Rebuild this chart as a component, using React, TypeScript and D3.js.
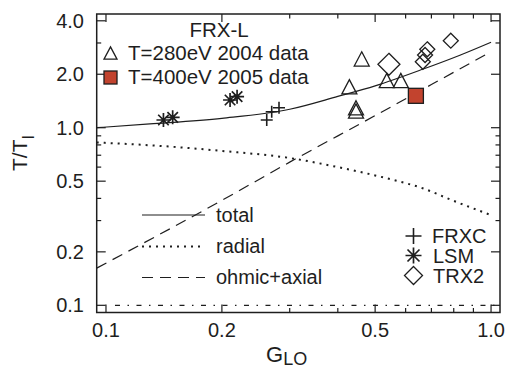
import React from "react";
import * as d3 from "d3";

// Axis ticks
const xMajorTicks = [0.1, 0.2, 0.5, 1.0];
const xMajorLabels = ["0.1", "0.2", "0.5", "1.0"];
const xMinorTicks = [0.3, 0.4, 0.6, 0.7, 0.8, 0.9];
const yMajorTicks = [0.1, 0.2, 0.5, 1.0, 2.0, 4.0];
const yMajorLabels = ["0.1", "0.2", "0.5", "1.0", "2.0", "4.0"];
const yMinorTicks = [0.3, 0.4, 0.6, 0.7, 0.8, 0.9, 3.0];

// Model curves (G_LO, T/T_I)
const totalG = [0.0946, 0.13, 0.2, 0.3, 0.4, 0.5, 0.667, 0.83, 1.0];
const totalT = [1.0, 1.05, 1.13, 1.27, 1.5, 1.72, 2.14, 2.56, 3.03];
const radialG = [0.0946, 0.15, 0.2, 0.3, 0.4, 0.557, 0.667, 0.782, 1.0];
const radialT = [0.826, 0.78, 0.74, 0.675, 0.6, 0.508, 0.455, 0.395, 0.322];
const ohmicG = [0.0946, 0.2, 0.3, 0.5, 0.7, 1.0];
const ohmicT = [0.162, 0.39, 0.64, 1.17, 1.75, 2.68];
const floorT = 0.1;

// FRX-L measurements
const frxl2004G = [0.4615, 0.4286, 0.446, 0.446, 0.536, 0.583];
const frxl2004T = [2.44, 1.7, 1.294, 1.242, 1.844, 1.844];
const frxl2005G = [0.638];
const frxl2005T = [1.512];

// Other devices
const frxcG = [0.2615, 0.2694, 0.2814];
const frxcT = [1.105, 1.23, 1.296];
const lsmG = [0.141, 0.149, 0.21, 0.219];
const lsmT = [1.105, 1.144, 1.432, 1.495];
const trx2G = [0.683, 0.674, 0.665, 0.786];
const trx2T = [2.764, 2.567, 2.353, 3.09];
const trx2LargeG = [0.543];
const trx2LargeT = [2.275];

const W = 505;
const H = 371;
const left = 96.7;
const right = 500;
const top = 14;
const bottom = 312.5;

const ink = "#1e1e1e";
const font = "'Liberation Sans', Arial, Helvetica, sans-serif";

const x = d3.scaleLog().domain([0.0946, 1.055]).range([left, right]);
const y = d3.scaleLog().domain([0.0911, 4.368]).range([bottom, top]);

const zip = (a: number[], b: number[]) => a.map((v, i) => [v, b[i]] as [number, number]);

const line = d3
  .line<[number, number]>()
  .x((d) => x(d[0]))
  .y((d) => y(d[1]))
  .curve(d3.curveMonotoneX);

function Triangle({ cx, cy, s }: { cx: number; cy: number; s: number }) {
  const h = s * 0.95;
  const p = `M${cx},${cy - h / 2}L${cx + s / 2},${cy + h / 2}L${cx - s / 2},${cy + h / 2}Z`;
  return <path d={p} fill="none" stroke={ink} strokeWidth={1.3} strokeLinejoin="miter" />;
}

function Diamond({ cx, cy, r }: { cx: number; cy: number; r: number }) {
  const p = `M${cx},${cy - r}L${cx + r},${cy}L${cx},${cy + r}L${cx - r},${cy}Z`;
  return <path d={p} fill="none" stroke={ink} strokeWidth={1.3} />;
}

function Plus({ cx, cy, r }: { cx: number; cy: number; r: number }) {
  return (
    <path
      d={`M${cx - r},${cy}H${cx + r}M${cx},${cy - r}V${cy + r}`}
      stroke={ink}
      strokeWidth={1.6}
      fill="none"
    />
  );
}

function Star({ cx, cy, r }: { cx: number; cy: number; r: number }) {
  const d = r * 0.75;
  return (
    <path
      d={`M${cx - r},${cy}H${cx + r}M${cx},${cy - r}V${cy + r}M${cx - d},${cy - d}L${cx + d},${cy + d}M${cx - d},${cy + d}L${cx + d},${cy - d}`}
      stroke={ink}
      strokeWidth={1.7}
      fill="none"
    />
  );
}

function Square({ cx, cy, s }: { cx: number; cy: number; s: number }) {
  return (
    <rect x={cx - s / 2} y={cy - s / 2} width={s} height={s} fill="#c2432e" stroke={ink} strokeWidth={1.3} />
  );
}

export default function App() {
  const majorLen = 8;
  const minorLen = 4.5;
  return (
    <div style={{ position: "absolute", left: 0, top: 0 }}>
      <svg width={W} height={H} style={{ display: "block", background: "#fff" }} fontFamily={font}>
        <rect width={W} height={H} fill="#fff" />

        {/* ticks on all four sides */}
        <g stroke={ink} strokeWidth={1.2}>
          {xMajorTicks.map((t) => (
            <g key={"xM" + t}>
              <line x1={x(t)} x2={x(t)} y1={bottom} y2={bottom - majorLen} />
              <line x1={x(t)} x2={x(t)} y1={top} y2={top + majorLen} />
            </g>
          ))}
          {xMinorTicks.map((t) => (
            <g key={"xm" + t}>
              <line x1={x(t)} x2={x(t)} y1={bottom} y2={bottom - minorLen} />
              <line x1={x(t)} x2={x(t)} y1={top} y2={top + minorLen} />
            </g>
          ))}
          {yMajorTicks.map((t) => (
            <g key={"yM" + t}>
              <line x1={left} x2={left + majorLen + 1} y1={y(t)} y2={y(t)} />
              <line x1={right} x2={right - majorLen - 1} y1={y(t)} y2={y(t)} />
            </g>
          ))}
          {yMinorTicks.map((t) => (
            <g key={"ym" + t}>
              <line x1={left} x2={left + minorLen} y1={y(t)} y2={y(t)} />
              <line x1={right} x2={right - minorLen} y1={y(t)} y2={y(t)} />
            </g>
          ))}
        </g>

        {/* tick labels */}
        <g fill={ink} fontSize={20}>
          {xMajorTicks.map((t, i) => (
            <text key={"xl" + t} x={x(t)} y={337} textAnchor="middle">
              {xMajorLabels[i]}
            </text>
          ))}
          {yMajorTicks.map((t, i) => (
            <text key={"yl" + t} x={84} y={y(t) + 7} textAnchor="end">
              {yMajorLabels[i]}
            </text>
          ))}
        </g>

        {/* axis titles */}
        <text x={266} y={362} fill={ink} fontSize={22}>
          G
          <tspan fontSize={18} dy={3}>
            LO
          </tspan>
        </text>
        <text transform="translate(27,171) rotate(-90)" fill={ink} fontSize={21}>
          T/T
          <tspan fontSize={16} dy={7}>
            I
          </tspan>
        </text>

        {/* model curves */}
        <path d={line(zip(totalG, totalT)) || ""} fill="none" stroke={ink} strokeWidth={1.2} />
        <path
          d={line(zip(radialG, radialT)) || ""}
          fill="none"
          stroke={ink}
          strokeWidth={2}
          strokeDasharray="2 5"
        />
        <path
          d={line(zip(ohmicG, ohmicT)) || ""}
          fill="none"
          stroke={ink}
          strokeWidth={1.2}
          strokeDasharray="11 7"
        />
        <line
          x1={x(0.1) + 1.5}
          x2={right - 2}
          y1={y(floorT)}
          y2={y(floorT)}
          stroke={ink}
          strokeWidth={1.2}
          strokeDasharray="5 7.5 1.5 7.5"
          strokeDashoffset={14}
        />

        {/* data points */}
        {zip(frxcG, frxcT).map((d, i) => (
          <Plus key={"p" + i} cx={x(d[0])} cy={y(d[1])} r={6} />
        ))}
        {zip(lsmG, lsmT).map((d, i) => (
          <Star key={"s" + i} cx={x(d[0])} cy={y(d[1])} r={7} />
        ))}
        {zip(trx2G, trx2T).map((d, i) => (
          <Diamond key={"d" + i} cx={x(d[0])} cy={y(d[1])} r={7.5} />
        ))}
        {zip(trx2LargeG, trx2LargeT).map((d, i) => (
          <Diamond key={"D" + i} cx={x(d[0])} cy={y(d[1])} r={11} />
        ))}
        {zip(frxl2004G, frxl2004T).map((d, i) => (
          <Triangle key={"t" + i} cx={x(d[0])} cy={y(d[1])} s={15} />
        ))}
        {zip(frxl2005G, frxl2005T).map((d, i) => (
          <Square key={"q" + i} cx={x(d[0])} cy={y(d[1])} s={15} />
        ))}

        {/* FRX-L legend */}
        <g fill={ink} fontSize={20.5}>
          <text x={219} y={37} textAnchor="middle">
            FRX-L
          </text>
          <Triangle cx={110.5} cy={53} s={13} />
          <text x={128} y={60}>
            T=280eV 2004 data
          </text>
          <Square cx={110.5} cy={77.5} s={13} />
          <text x={128} y={84}>
            T=400eV 2005 data
          </text>
        </g>

        {/* model legend */}
        <g fill={ink} fontSize={20}>
          <line x1={142} x2={205} y1={215} y2={215} stroke={ink} strokeWidth={1.2} />
          <text x={216} y={222}>
            total
          </text>
          <line
            x1={142}
            x2={205}
            y1={246.5}
            y2={246.5}
            stroke={ink}
            strokeWidth={2}
            strokeDasharray="2 5"
          />
          <text x={216} y={253}>
            radial
          </text>
          <line
            x1={142}
            x2={205}
            y1={277.5}
            y2={277.5}
            stroke={ink}
            strokeWidth={1.2}
            strokeDasharray="11 7"
          />
          <text x={216} y={284}>
            ohmic+axial
          </text>
        </g>

        {/* device legend */}
        <g fill={ink} fontSize={20}>
          <Plus cx={413.5} cy={236} r={8} />
          <text x={432} y={243}>
            FRXC
          </text>
          <Star cx={413.5} cy={255.5} r={8} />
          <text x={433} y={263}>
            LSM
          </text>
          <Diamond cx={413.5} cy={275.5} r={9} />
          <text x={433} y={283}>
            TRX2
          </text>
        </g>

        {/* frame */}
        <rect
          x={left}
          y={top}
          width={right - left}
          height={bottom - top}
          fill="none"
          stroke={ink}
          strokeWidth={1.5}
        />
      </svg>
    </div>
  );
}
